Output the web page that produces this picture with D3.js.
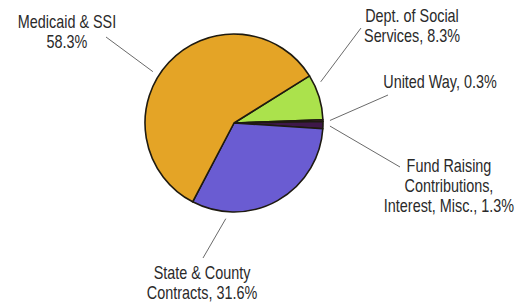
<!DOCTYPE html>
<html>
<head>
<meta charset="utf-8">
<script src="https://cdn.jsdelivr.net/npm/d3@7"></script>
<style>
  body { margin: 0; background: #fff; }
  text { font-family: "Liberation Sans", Arial, sans-serif; font-size: 18px; fill: #2a2a2a; }
</style>
</head>
<body>
<div id="chart"></div>
<script>
// Slice data, clockwise from the green slice
var sources = ["Dept. of Social Services", "United Way", "Fund Raising", "State & County Contracts", "Medicaid & SSI"];
var shares = [8.3, 0.3, 1.3, 31.6, 58.3];
var sliceColors = ["#abe24c", "#6a2c58", "#3e1848", "#6a5cd2", "#e4a426"];

// Label text lines for each slice
var labelLines = [
  ["Dept. of Social", "Services, 8.3%"],
  ["United Way, 0.3%"],
  ["Fund Raising", "Contributions,", "Interest, Misc., 1.3%"],
  ["State & County", "Contracts, 31.6%"],
  ["Medicaid & SSI", "58.3%"]
];

var svgWidth = 530;
var svgHeight = 306;
var cx = 234, cy = 123, radius = 89;

var svg = d3.select("#chart").append("svg")
    .attr("width", svgWidth)
    .attr("height", svgHeight);

var pieGroup = svg.append("g")
    .attr("transform", `translate(${cx}, ${cy})`);

var startDeg = 58;
var pie = d3.pie()
    .sort(null)
    .value(d => d)
    .startAngle(startDeg * Math.PI / 180)
    .endAngle((startDeg + 360) * Math.PI / 180);

var arc = d3.arc().innerRadius(0).outerRadius(radius);
var arcs = pie(shares);

pieGroup.selectAll("path")
    .data(arcs)
    .enter()
    .append("path")
    .attr("d", arc)
    .attr("fill", (d, i) => sliceColors[i])
    .attr("stroke", "#1e1a10")
    .attr("stroke-width", 1.6)
    .attr("stroke-linejoin", "round");

// Label placement: text centre/baseline, leader end near text,
// and where along the slice (0..1) the leader starts
var labelPos = [
  { x: 412, y: 22, lx: 361, ly: 28, f: 0.22 },
  { x: 440, y: 88, lx: 388, ly: 95, f: 0.5 },
  { x: 449, y: 172, lx: 400, ly: 167, f: 0.6 },
  { x: 202, y: 279, lx: 203, ly: 258, f: 0.8 },
  { x: 67, y: 28, lx: 106, ly: 37, f: 0.45 }
];
var leaderStartR = radius + 7;
var squeeze = 0.8; // narrow typeface look

arcs.forEach(function(a, i) {
  var p = labelPos[i];
  var ang = a.startAngle + (a.endAngle - a.startAngle) * p.f;
  var sx = cx + Math.sin(ang) * leaderStartR;
  var sy = cy - Math.cos(ang) * leaderStartR;

  svg.append("line")
      .attr("x1", sx).attr("y1", sy)
      .attr("x2", p.lx).attr("y2", p.ly)
      .attr("stroke", "#6a6a6a")
      .attr("stroke-width", 1);

  var t = svg.append("g")
      .attr("transform", `translate(${p.x}, ${p.y}) scale(${squeeze}, 1)`)
      .append("text")
      .attr("text-anchor", "middle");
  labelLines[i].forEach(function(line, j) {
    t.append("tspan")
        .attr("x", 0)
        .attr("y", j * 20)
        .text(line);
  });
});
</script>
</body>
</html>
